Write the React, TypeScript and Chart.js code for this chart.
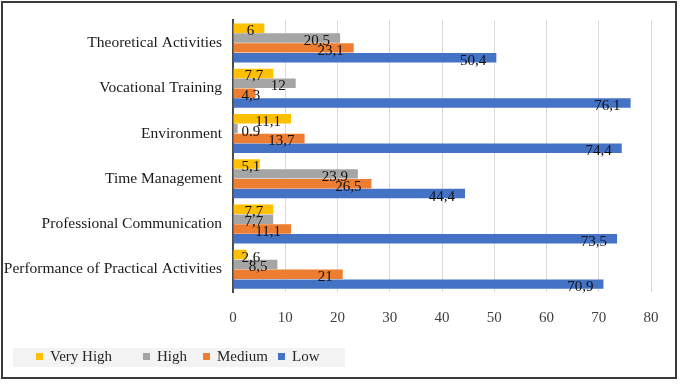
import React, { useEffect, useRef } from "react";
import { Chart, registerables } from "chart.js";

Chart.register(...registerables);

const categories = [
  "Theoretical Activities",
  "Vocational Training",
  "Environment",
  "Time Management",
  "Professional Communication",
  "Performance of Practical Activities",
];
const veryHigh = [6, 7.7, 11.1, 5.1, 7.7, 2.6];
const high = [20.5, 12, 0.9, 23.9, 7.7, 8.5];
const medium = [23.1, 4.3, 13.7, 26.5, 11.1, 21];
const low = [50.4, 76.1, 74.4, 44.4, 73.5, 70.9];
const highLabels = ["20,5", "12", "0.9", "23,9", "7,7", "8,5"];
const seriesNames = ["Very High", "High", "Medium", "Low"];
const seriesColors = ["#FFC000", "#A5A5A5", "#ED7D31", "#4472C4"];
const xTicks = [0, 10, 20, 30, 40, 50, 60, 70, 80];

const SERIF = "'Liberation Serif', 'Times New Roman', serif";

const fmt = (v: number) => String(v).replace(".", ",");

const bgPlugin = {
  id: "bg",
  beforeDraw(chart: any) {
    const ctx = chart.ctx;
    ctx.save();
    ctx.fillStyle = "#ffffff";
    ctx.fillRect(0, 0, chart.width, chart.height);
    ctx.restore();
  },
  afterDraw(chart: any) {
    const ctx = chart.ctx;
    ctx.save();
    ctx.strokeStyle = "#3a3a3a";
    ctx.lineWidth = 2;
    ctx.strokeRect(2, 2, 674, 376);
    ctx.restore();
  },
};

const labelPlugin = {
  id: "barLabels",
  afterDatasetsDraw(chart: any) {
    const ctx = chart.ctx;
    ctx.save();
    ctx.font = `15px ${SERIF}`;
    ctx.fillStyle = "#111111";
    ctx.textAlign = "right";
    ctx.textBaseline = "middle";
    chart.data.datasets.forEach((ds: any, di: number) => {
      const meta = chart.getDatasetMeta(di);
      meta.data.forEach((bar: any, i: number) => {
        const text = ds.labelTexts ? ds.labelTexts[i] : fmt(ds.data[i]);
        const w = ctx.measureText(text).width;
        const right = Math.max(bar.x - 10, bar.base + 8 + w);
        ctx.fillText(text, right, bar.y + 3);
      });
    });
    ctx.restore();
  },
};

const legendPlugin = {
  id: "customLegend",
  afterDraw(chart: any) {
    const ctx = chart.ctx;
    ctx.save();
    ctx.fillStyle = "#F3F3F3";
    ctx.fillRect(13, 348, 332, 19);
    const xs = [36, 143, 203, 278];
    ctx.font = `15px ${SERIF}`;
    ctx.textBaseline = "middle";
    ctx.textAlign = "left";
    chart.data.datasets.forEach((ds: any, i: number) => {
      ctx.fillStyle = ds.backgroundColor;
      ctx.fillRect(xs[i], 353, 7, 7);
      ctx.fillStyle = "#262626";
      ctx.fillText(ds.label, xs[i] + 14, 357);
    });
    ctx.restore();
  },
};

export default function App() {
  const ref = useRef<HTMLCanvasElement | null>(null);
  useEffect(() => {
    document.body.style.margin = "0";
    if (!ref.current) return;
    const series = [veryHigh, high, medium, low];
    const chart = new Chart(ref.current, {
      type: "bar",
      data: {
        labels: categories,
        datasets: series.map((d, i) => ({
          label: seriesNames[i],
          data: d,
          backgroundColor: seriesColors[i],
          borderWidth: 0,
          categoryPercentage: 0.87,
          barPercentage: 0.96,
          labelTexts: i === 1 ? highLabels : undefined,
        })) as any,
      },
      options: {
        indexAxis: "y",
        animation: false,
        responsive: false,
        devicePixelRatio: 1,
        layout: { padding: { left: 0, right: 29, top: 17, bottom: 0 } },
        plugins: { legend: { display: false }, tooltip: { enabled: false } },
        scales: {
          x: {
            min: 0,
            max: 80,
            afterBuildTicks: (scale: any) => {
              scale.ticks = xTicks.map((v) => ({ value: v }));
            },
            grid: { color: "#D9D9D9", lineWidth: 1, drawTicks: false },
            border: { display: false },
            ticks: {
              padding: 17,
              color: "#404040",
              font: { family: SERIF, size: 15 },
              maxRotation: 0,
            },
            afterFit: (scale: any) => {
              scale.height = 95;
            },
          },
          y: {
            grid: { display: false, drawTicks: false },
            border: { display: true, color: "#4a4a4a", width: 2 },
            ticks: {
              padding: 11,
              color: "#1a1a1a",
              font: { family: SERIF, size: 15.5 },
            },
            afterFit: (scale: any) => {
              scale.width = 233;
            },
          },
        },
      } as any,
      plugins: [bgPlugin, labelPlugin, legendPlugin],
    });
    return () => chart.destroy();
  }, []);
  return (
    <div style={{ position: "fixed", left: 0, top: 0, width: 680, height: 387 }}>
      <canvas ref={ref} width={680} height={387} />
    </div>
  );
}
